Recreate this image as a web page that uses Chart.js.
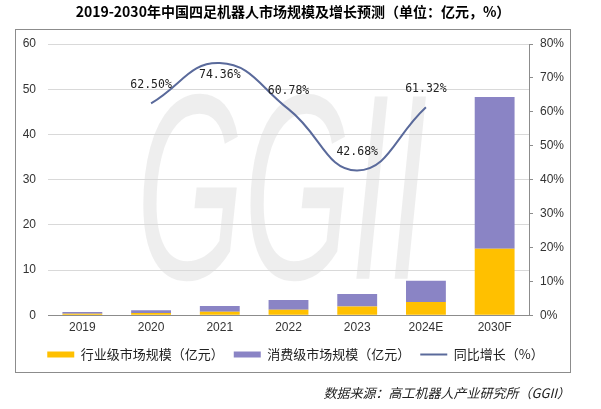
<!DOCTYPE html>
<html><head><meta charset="utf-8">
<script src="https://cdn.jsdelivr.net/npm/chart.js@4/dist/chart.umd.min.js"></script>
<style>html,body{margin:0;padding:0;background:#fff}#wrap{width:601px;height:409px;position:relative}</style>
</head><body><div id="wrap"><canvas id="c" width="601" height="409"></canvas></div>
<script>
const categories = ['2019','2020','2021','2022','2023','2024E','2030F'];
const industrial = [0.3, 0.5, 0.75, 1.2, 1.9, 2.9, 14.7];
const consumer = [0.4, 0.6, 1.3, 2.15, 2.8, 4.7, 33.6];
const growth = [null, 62.50, 74.36, 60.78, 42.68, 61.32, null];
const leftTicks = [0,10,20,30,40,50,60];
const rightTicks = [0,10,20,30,40,50,60,70,80];
const titleText = '2019-2030年中国四足机器人市场规模及增长预测（单位：亿元，%）';
const sourceText = '数据来源：高工机器人产业研究所（GGII）';
const labelBelow = [false,false,true,false,false,false,false];

const CJK = '"Noto Sans CJK SC", "Noto Sans", sans-serif';

const decor = {
  id:'decor',
  beforeDraw(chart){
    const ctx = chart.ctx;
    ctx.save();
    ctx.fillStyle='#fff';ctx.fillRect(0,0,chart.width,chart.height);
    ctx.fillStyle='rgba(222,222,222,0.5)';
    ctx.translate(282, 205);
    ctx.scale(0.52, 1);
    ctx.font='italic 265px "Liberation Sans", sans-serif';
    ctx.textAlign='center';ctx.textBaseline='middle';
    ctx.fillText('GGII', 0, 0);
    ctx.restore();
  },
  afterDraw(chart){
    const ctx = chart.ctx;
    ctx.save();
    ctx.strokeStyle='#8c8c8c';ctx.lineWidth=1;
    ctx.strokeRect(15.5,29.5,555,343);
    ctx.fillStyle='#000';
    ctx.font='bold 14px '+CJK;
    ctx.textAlign='center';ctx.textBaseline='middle';
    ctx.fillText(titleText, 293, 12);
    ctx.font='italic 13px '+CJK;
    ctx.fillStyle='#222';
    ctx.textAlign='right';
    ctx.fillText(sourceText, 570, 393);
    const meta = chart.getDatasetMeta(2);
    ctx.font='11.5px "DejaVu Sans Mono", monospace';
    ctx.fillStyle='#222';ctx.textAlign='center';
    meta.data.forEach((pt,i)=>{
      if(growth[i]==null) return;
      const y = labelBelow[i] ? pt.y+12 : pt.y-18;
      ctx.fillText(growth[i].toFixed(2)+'%', pt.x, y);
    });
    ctx.restore();
  }
};

new Chart(document.getElementById('c'),{
  data:{
    labels:categories,
    datasets:[
      {type:'bar',label:'行业级市场规模（亿元）',data:industrial,backgroundColor:'#FFC000',borderWidth:0,yAxisID:'y',stack:'s',pointStyle:'rect',order:2},
      {type:'bar',label:'消费级市场规模（亿元）',data:consumer,backgroundColor:'#8A84C5',borderWidth:0,yAxisID:'y',stack:'s',pointStyle:'rect',order:2},
      {type:'line',label:'同比增长（%）',data:growth,borderColor:'#5A6A9B',backgroundColor:'#5A6A9B',borderWidth:2,pointRadius:0,pointStyle:'line',tension:0.45,yAxisID:'y1',order:1}
    ]
  },
  options:{
    responsive:false,animation:false,
    layout:{padding:{top:44,left:20,right:30,bottom:38}},
    datasets:{bar:{categoryPercentage:1,barPercentage:0.58}},
    plugins:{
      legend:{position:'bottom',labels:{usePointStyle:true,pointStyleWidth:27,boxHeight:6,padding:10,color:'#222',font:{family:CJK,size:13},
        sort:(a,b)=>a.datasetIndex-b.datasetIndex}},
      tooltip:{enabled:false},title:{display:false}
    },
    scales:{
      x:{stacked:true,grid:{display:false,drawTicks:false,tickLength:0},border:{display:true,color:'#8c8c8c'},
         ticks:{padding:5,color:'#333',font:{family:'"Liberation Sans", sans-serif',size:12}},
         afterFit(s){s.height=22.8;}},
      y:{stacked:true,position:'left',min:0,max:60,
         afterBuildTicks(s){s.ticks=leftTicks.map(v=>({value:v}));},
         grid:{color:'#d9d9d9',drawTicks:false},border:{display:false},
         ticks:{padding:12,color:'#333',font:{family:'"Liberation Sans", sans-serif',size:12}},
         afterFit(s){s.width=28;}},
      y1:{position:'right',min:0,max:80,
         afterBuildTicks(s){s.ticks=rightTicks.map(v=>({value:v}));},
         grid:{drawOnChartArea:false,tickLength:4,color:'#8c8c8c'},border:{display:true,color:'#8c8c8c'},
         ticks:{padding:7,color:'#333',font:{family:'"Liberation Sans", sans-serif',size:12},callback:v=>v+'%'},
         afterFit(s){s.width=42;}}
    }
  },
  plugins:[decor]
});
</script></body></html>
